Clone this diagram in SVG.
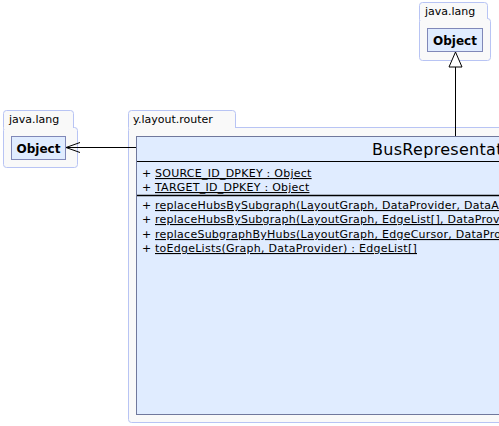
<svg xmlns="http://www.w3.org/2000/svg" width="499" height="426" viewBox="0 0 499 426">
<style>
.pkg{fill:#f9f9f9;stroke:#b8c4f4;stroke-width:1}
.pkgt{font-family:"DejaVu Sans",sans-serif;font-size:11px;fill:#000}
.obj{fill:#e0ecff;stroke:#8088b8;stroke-width:1}
.objt{font-family:"DejaVu Sans",sans-serif;font-size:12px;font-weight:bold;fill:#000}
.cls{fill:#e0ecff;stroke:#70789c;stroke-width:1}
.mem{font-family:"DejaVu Sans",sans-serif;font-size:11px;letter-spacing:0.25px;fill:#000}
.u{text-decoration:underline}
.edge{stroke:#000;stroke-width:1;fill:none}
</style>
<g id="pkg-java-lang-top">
<rect class="pkg" x="419.5" y="2.5" width="68" height="20" rx="3"/>
<rect class="pkg" x="419.5" y="18.5" width="71" height="42" rx="3"/>
<rect x="420" y="17" width="67" height="3" fill="#f9f9f9"/>
<text class="pkgt" x="425" y="15">java.lang</text>
</g>
<g id="object-top">
<rect class="obj" x="427.5" y="28.5" width="55" height="23"/>
<text class="objt" x="455" y="44.5" text-anchor="middle">Object</text>
</g>
<g id="pkg-java-lang-left">
<rect class="pkg" x="3.5" y="110.5" width="70" height="20" rx="3"/>
<rect class="pkg" x="3.5" y="127.5" width="74" height="40" rx="3"/>
<rect x="4" y="126" width="69" height="3" fill="#f9f9f9"/>
<text class="pkgt" x="9" y="123">java.lang</text>
</g>
<g id="object-left">
<rect class="obj" x="11.5" y="136.5" width="54" height="23"/>
<text class="objt" x="38.5" y="152.5" text-anchor="middle">Object</text>
</g>
<g id="pkg-router">
<rect class="pkg" x="128.5" y="110.5" width="107" height="20" rx="3"/>
<rect class="pkg" x="128.5" y="127.5" width="380" height="295" rx="3"/>
<rect x="129" y="126" width="106" height="3" fill="#f9f9f9"/>
<text class="pkgt" x="133" y="123">y.layout.router</text>
</g>
<g id="class-busrep">
<rect class="cls" x="136.5" y="136.5" width="380" height="278"/>
<text x="372" y="155" font-family="DejaVu Sans,sans-serif" font-size="16" letter-spacing="0.3">BusRepresentations</text>
<line x1="137" y1="161.5" x2="499" y2="161.5" stroke="#000"/>
<text class="mem" x="142" y="177">+</text>
<text class="mem u" x="155" y="177">SOURCE_ID_DPKEY : Object</text>
<text class="mem" x="142" y="191">+</text>
<text class="mem u" x="155" y="191">TARGET_ID_DPKEY : Object</text>
<line x1="137" y1="195.5" x2="499" y2="195.5" stroke="#000" stroke-width="1.5"/>
<text class="mem" x="142" y="209">+</text>
<text class="mem u" x="155" y="209">replaceHubsBySubgraph(LayoutGraph, DataProvider, DataA</text>
<text class="mem" x="142" y="223">+</text>
<text class="mem u" x="155" y="223">replaceHubsBySubgraph(LayoutGraph, EdgeList[], DataProvi</text>
<text class="mem" x="142" y="238">+</text>
<text class="mem u" x="155" y="238">replaceSubgraphByHubs(LayoutGraph, EdgeCursor, DataPro</text>
<text class="mem" x="142" y="252">+</text>
<text class="mem u" x="155" y="252">toEdgeLists(Graph, DataProvider) : EdgeList[]</text>
</g>
<g id="connectors">
<line class="edge" x1="455.5" y1="136" x2="455.5" y2="67"/>
<polygon points="455.5,52 449,67 462,67" fill="#fff" stroke="#000"/>
<line class="edge" x1="136" y1="147.5" x2="66" y2="147.5"/>
<polyline class="edge" points="80,142.5 66,147.5 80,152.5"/>
</g>
</svg>
